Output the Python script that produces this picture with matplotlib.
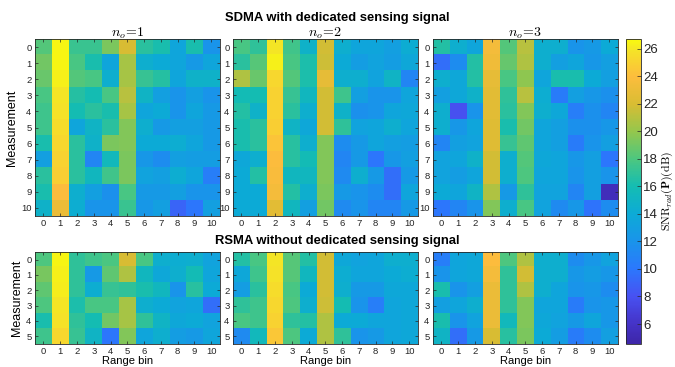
import numpy as np
import matplotlib.pyplot as plt
from matplotlib.colors import LinearSegmentedColormap

plt.rcParams['font.family'] = ['Liberation Sans', 'DejaVu Sans']
plt.rcParams['mathtext.fontset'] = 'cm'

# parula-like colormap, nodes
parula_pos = [0.0, 0.065, 0.156, 0.246, 0.336, 0.427, 0.517, 0.607, 0.697,
              0.788, 0.878, 0.968, 1.0]
parula_rgb = [(0.24, 0.15, 0.66), (0.27, 0.20, 0.78), (0.28, 0.32, 0.95),
              (0.17, 0.47, 0.99), (0.10, 0.58, 0.92), (0.05, 0.67, 0.84),
              (0.08, 0.74, 0.70), (0.30, 0.78, 0.50), (0.58, 0.78, 0.30),
              (0.85, 0.74, 0.20), (0.99, 0.74, 0.24), (0.96, 0.90, 0.15),
              (0.976, 0.983, 0.054)]
parula = LinearSegmentedColormap.from_list('parula', list(zip(parula_pos, parula_rgb)), N=256)

range_bins = list(range(11))
vmin, vmax = 4.55, 26.7

# SDMA with dedicated sensing signal, n_o = 1, 2, 3 (rows = measurement 0..10)
sdma_n1 = [
    [18.2, 26.5, 17.3, 17.3, 19.3, 22.0, 16.8, 16.2, 13.5, 16.2, 12.0],
    [19.0, 26.5, 17.8, 16.2, 13.5, 20.5, 14.5, 14.0, 13.5, 12.5, 13.5],
    [18.8, 26.3, 18.2, 17.8, 14.5, 20.5, 17.2, 16.6, 13.5, 14.8, 14.8],
    [17.8, 26.0, 16.6, 16.0, 17.8, 21.0, 15.0, 13.0, 12.0, 13.0, 12.0],
    [17.5, 25.8, 16.0, 16.8, 16.2, 20.5, 13.5, 14.0, 12.0, 13.5, 12.5],
    [17.5, 25.5, 13.5, 15.0, 16.8, 19.5, 14.5, 12.5, 13.0, 13.0, 12.5],
    [16.2, 25.3, 16.8, 14.8, 19.3, 19.5, 14.0, 14.0, 14.3, 13.5, 12.5],
    [13.0, 25.0, 16.8, 11.0, 15.5, 19.3, 12.3, 11.5, 13.0, 12.8, 12.8],
    [16.8, 24.8, 16.8, 15.3, 17.6, 19.3, 13.3, 13.0, 14.3, 13.5, 10.5],
    [16.2, 24.0, 14.5, 13.0, 11.8, 17.8, 12.5, 12.5, 13.0, 12.0, 12.0],
    [14.8, 23.0, 14.3, 12.0, 12.0, 17.3, 12.3, 13.0, 9.0, 10.0, 13.0]]
sdma_n2 = [
    [17.8, 17.0, 26.0, 17.6, 14.8, 21.8, 14.5, 13.5, 13.5, 13.0, 14.2],
    [16.8, 18.3, 26.3, 17.8, 16.3, 21.6, 14.0, 12.8, 13.3, 12.8, 13.8],
    [20.8, 18.8, 25.3, 18.2, 16.3, 22.8, 14.5, 14.5, 13.3, 15.0, 11.0],
    [15.8, 16.0, 25.0, 17.2, 15.3, 21.8, 17.5, 13.0, 12.0, 12.0, 13.5],
    [16.5, 14.8, 25.0, 16.8, 14.5, 21.8, 14.8, 11.8, 12.0, 13.5, 13.8],
    [16.2, 16.8, 24.8, 15.0, 13.8, 21.8, 17.0, 13.3, 13.5, 14.5, 13.5],
    [16.2, 16.8, 24.3, 16.7, 14.5, 19.5, 11.5, 12.5, 13.5, 13.0, 12.8],
    [13.8, 14.5, 24.0, 16.7, 15.8, 19.5, 11.0, 12.5, 10.0, 12.3, 13.0],
    [14.0, 16.5, 23.8, 15.3, 15.3, 19.5, 11.3, 14.5, 12.5, 9.5, 12.5],
    [14.0, 14.0, 23.5, 16.5, 14.5, 19.3, 12.5, 12.0, 11.5, 9.5, 13.5],
    [14.0, 14.0, 22.5, 15.3, 13.0, 19.0, 11.3, 12.0, 11.0, 11.0, 12.5]]
sdma_n3 = [
    [16.5, 14.5, 13.5, 23.5, 18.2, 21.0, 14.5, 14.5, 12.0, 12.5, 14.0],
    [9.5, 11.5, 16.5, 23.3, 18.7, 20.8, 14.5, 13.0, 13.5, 12.3, 13.0],
    [14.5, 13.8, 16.5, 22.8, 17.8, 19.8, 13.5, 16.2, 16.2, 14.0, 13.0],
    [13.0, 13.8, 14.8, 22.5, 17.0, 21.0, 14.3, 10.3, 13.0, 12.3, 11.8],
    [14.5, 8.0, 12.0, 22.5, 16.8, 19.5, 14.5, 13.8, 10.5, 11.8, 11.0],
    [14.5, 12.3, 13.5, 22.3, 16.2, 19.0, 13.5, 13.0, 11.8, 11.8, 12.3],
    [11.0, 13.0, 13.3, 22.3, 17.2, 18.5, 13.5, 13.0, 10.3, 12.0, 13.0],
    [13.3, 13.5, 14.8, 21.8, 14.5, 18.2, 13.8, 13.5, 12.3, 13.0, 10.0],
    [13.3, 12.8, 13.5, 21.8, 14.5, 18.0, 13.5, 13.5, 12.0, 13.0, 12.0],
    [14.0, 13.5, 15.0, 20.8, 12.5, 17.0, 13.3, 13.3, 11.0, 13.0, 5.5],
    [10.0, 11.0, 12.0, 19.5, 14.5, 17.8, 13.3, 11.3, 12.3, 9.8, 11.5]]

# RSMA without dedicated sensing signal (rows = measurement 0..5)
rsma_n1 = [
    [18.0, 26.5, 17.0, 17.5, 17.9, 22.0, 17.8, 14.5, 14.3, 14.5, 13.3],
    [19.2, 26.3, 17.0, 12.5, 18.5, 20.8, 15.3, 13.8, 14.5, 15.8, 13.5],
    [18.5, 26.2, 17.0, 14.3, 17.2, 17.0, 16.2, 15.3, 12.0, 16.7, 14.0],
    [18.0, 26.0, 16.3, 17.8, 17.8, 20.5, 14.5, 14.0, 13.3, 13.5, 9.5],
    [16.2, 25.8, 17.0, 16.0, 19.0, 20.5, 17.0, 15.0, 13.8, 14.0, 13.3],
    [17.5, 25.3, 17.2, 15.0, 10.0, 19.5, 13.5, 14.5, 12.8, 12.5, 13.5]]
rsma_n2 = [
    [16.5, 17.8, 26.0, 18.3, 16.5, 21.8, 13.8, 13.3, 13.5, 14.5, 14.5],
    [13.8, 17.5, 25.8, 18.3, 15.3, 21.8, 14.3, 13.5, 13.5, 14.0, 14.3],
    [12.8, 16.8, 25.5, 17.8, 14.0, 21.8, 14.5, 12.5, 12.5, 13.8, 13.8],
    [17.0, 17.5, 25.3, 18.0, 14.5, 21.6, 16.0, 12.0, 10.5, 13.5, 13.8],
    [17.8, 17.5, 25.0, 17.0, 16.5, 20.8, 14.0, 14.0, 13.5, 13.5, 13.8],
    [11.3, 15.5, 24.5, 18.0, 14.0, 20.8, 17.0, 12.0, 12.5, 13.5, 13.8]]
rsma_n3 = [
    [10.5, 13.5, 13.8, 24.0, 18.0, 20.8, 14.5, 14.5, 11.5, 12.3, 13.3],
    [12.0, 13.5, 13.8, 23.5, 17.0, 21.8, 14.5, 14.5, 12.3, 12.8, 12.3],
    [16.2, 12.0, 13.0, 23.0, 17.0, 20.8, 14.5, 13.5, 12.0, 12.3, 11.5],
    [13.0, 13.5, 14.5, 23.0, 17.0, 19.5, 13.5, 13.5, 10.3, 12.0, 12.3],
    [16.2, 12.0, 13.3, 23.0, 15.5, 19.5, 13.8, 13.3, 12.5, 13.5, 12.3],
    [15.0, 9.5, 12.5, 22.0, 16.7, 19.3, 14.0, 12.8, 10.3, 11.5, 13.0]]

top_titles = ['$n_o\\!=\\!1$', '$n_o\\!=\\!2$', '$n_o\\!=\\!3$']

fig = plt.figure(figsize=(6.75, 3.67), dpi=100)
lefts = [0.0519, 0.3452, 0.6415]
w = 0.2735
tick_col = '0.15'


def style(ax, nrows):
    ax.set_xticks(range_bins)
    ax.set_yticks(range(nrows))
    ax.tick_params(direction='in', length=2.5, width=0.5, labelsize=6.8,
                   colors=tick_col, top=True, right=True, pad=2.5)
    for s in ax.spines.values():
        s.set_color(tick_col)
        s.set_linewidth(0.6)


for i, data in enumerate([sdma_n1, sdma_n2, sdma_n3]):
    ax = fig.add_axes([lefts[i], 0.4114, w, 0.4823])
    im = ax.imshow(np.array(data), cmap=parula, vmin=vmin, vmax=vmax,
                   aspect='auto', interpolation='nearest')
    style(ax, 11)
    ax.set_title(top_titles[i], fontsize=10, pad=1.5)
    if i == 0:
        ax.set_ylabel('Measurement', fontsize=9, labelpad=2)

for i, data in enumerate([rsma_n1, rsma_n2, rsma_n3]):
    ax = fig.add_axes([lefts[i], 0.0627, w, 0.2507])
    ax.imshow(np.array(data), cmap=parula, vmin=vmin, vmax=vmax,
              aspect='auto', interpolation='nearest')
    style(ax, 6)
    ax.set_xlabel('Range bin', fontsize=8, labelpad=0)
    if i == 0:
        ax.set_ylabel('Measurement', fontsize=9, labelpad=2)

fig.text(0.5, 0.952, 'SDMA with dedicated sensing signal', ha='center',
         va='center', fontsize=9.4, fontweight='bold')
fig.text(0.5, 0.343, 'RSMA without dedicated sensing signal', ha='center',
         va='center', fontsize=9.4, fontweight='bold')

cax = fig.add_axes([0.9274, 0.0627, 0.0222, 0.831])
cb = fig.colorbar(im, cax=cax, ticks=range(6, 27, 2))
cb.ax.tick_params(direction='in', length=3, width=0.5, labelsize=9.5,
                  colors=tick_col, pad=1.5)
cb.outline.set_linewidth(0.6)
cb.outline.set_edgecolor(tick_col)
fig.text(0.989, 0.48, '$\\mathrm{SNR}_{rad}(\\mathbf{P})(\\mathrm{dB})$',
         rotation=90, ha='center', va='center', fontsize=8.5)

fig.savefig('out.png', dpi=100)
plt.close()
